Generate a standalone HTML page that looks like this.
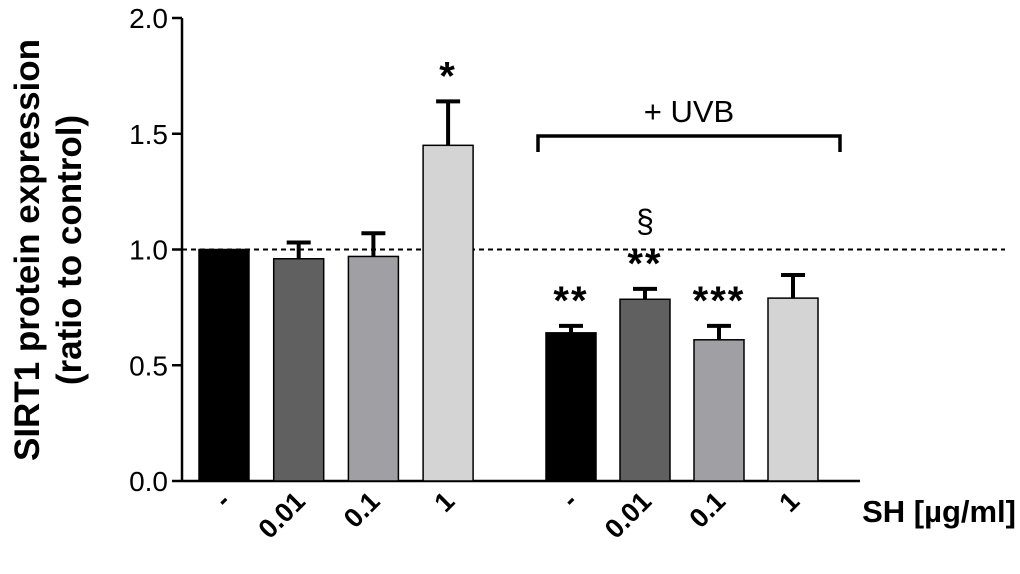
<!DOCTYPE html>
<html><head><meta charset="utf-8"><style>
body{margin:0;background:#fff}
svg text{font-family:"Liberation Sans",Arial,sans-serif;font-weight:bold}
</style></head><body>
<svg id="chart" width="1020" height="569" xmlns="http://www.w3.org/2000/svg"></svg>
<script>
const categories=["-","0.01","0.1","1","-","0.01","0.1","1"];
const values=[1.0,0.96,0.97,1.45,0.64,0.785,0.61,0.79];
const errors=[0,0.07,0.10,0.19,0.03,0.045,0.06,0.10];
const annotations=["","","","*","**","**","***",""];
const yTicks=[0,0.5,1.0,1.5,2.0];
const yTickLabels=["0.0","0.5","1.0","1.5","2.0"];
const fills=["#000","#606060","#a0a0a4","#d4d4d4","#000","#606060","#a0a0a4","#d4d4d4"];
const svg=document.getElementById('chart');
const NS='http://www.w3.org/2000/svg';
const y0=481,y1=18,ax=182;
const yS=v=>y0-(v/2)*(y0-y1);
const xC=i=>(i<4?224+i*74.7:571+(i-4)*74);
const bw=50;
function mk(tag,attrs,parent){const e=document.createElementNS(NS,tag);for(const k in attrs)e.setAttribute(k,attrs[k]);(parent||svg).appendChild(e);return e;}
let axis=mk('g',{});


mk('line',{x1:ax,y1:y1,x2:ax,y2:y0+1,stroke:'#000','stroke-width':2.5},axis);
yTicks.forEach((t,i)=>{
  mk('line',{x1:ax-10,y1:yS(t),x2:ax,y2:yS(t),stroke:'#000','stroke-width':2.5},axis);
  const tx=mk('text',{x:ax-14,y:yS(t)+10,'text-anchor':'end','font-size':28,style:'font-weight:normal'},axis);
  tx.textContent=yTickLabels[i];
  
  
});
const xl=mk('line',{x1:ax,y1:y0,x2:860,y2:y0,stroke:'#000','stroke-width':2.5});


const ref=mk('line',{x1:ax,y1:yS(1),x2:1005,y2:yS(1),stroke:'#000','stroke-width':2,'stroke-dasharray':'5,4'});


values.forEach((v,i)=>{
  const x=xC(i);
  if(errors[i]>0){
    const el=mk('line',{x1:x,y1:yS(v),x2:x,y2:yS(v+errors[i]),stroke:'#000','stroke-width':4});
    
    
    const cap=mk('line',{x1:x-12,y1:yS(v+errors[i]),x2:x+12,y2:yS(v+errors[i]),stroke:'#000','stroke-width':4});
    
    
  }
  const r=mk('rect',{x:x-bw/2,y:yS(v),width:bw,height:y0-yS(v),fill:fills[i],stroke:'#000','stroke-width':1.5});
  
  
  if(annotations[i]){
    const a=mk('text',{x:x,y:yS(v+errors[i])-12,'text-anchor':'middle','font-size':40,'letter-spacing':'2'});
    a.textContent=annotations[i];
    
    
  }
  const lx=x+8,ly=503;
  const t=mk('text',{x:lx,y:ly,'text-anchor':'end','font-size':27,transform:`rotate(-45 ${lx} ${ly})`});
  t.textContent=categories[i];
  
  
});
const br=mk('path',{d:'M538,152 V136 H840 V152',fill:'none',stroke:'#000','stroke-width':3.5});


const uvb=mk('text',{x:689,y:122,'text-anchor':'middle','font-size':31,style:'font-weight:normal'});
uvb.textContent='+ UVB';


const sec=mk('text',{x:645,y:232,'text-anchor':'middle','font-size':32,style:'font-weight:normal'});
sec.textContent='§';


const sh=mk('text',{x:1016,y:522,'text-anchor':'end','font-size':31});
sh.textContent='SH [µg/ml]';


const yt=mk('text',{x:0,y:0,'text-anchor':'middle','font-size':35,transform:'translate(39,250) rotate(-90)'});


const t1=mk('tspan',{x:0,dy:0},yt);t1.textContent='SIRT1 protein expression';
const t2=mk('tspan',{x:0,dy:42},yt);t2.textContent='(ratio to control)';
</script>
</body></html>
